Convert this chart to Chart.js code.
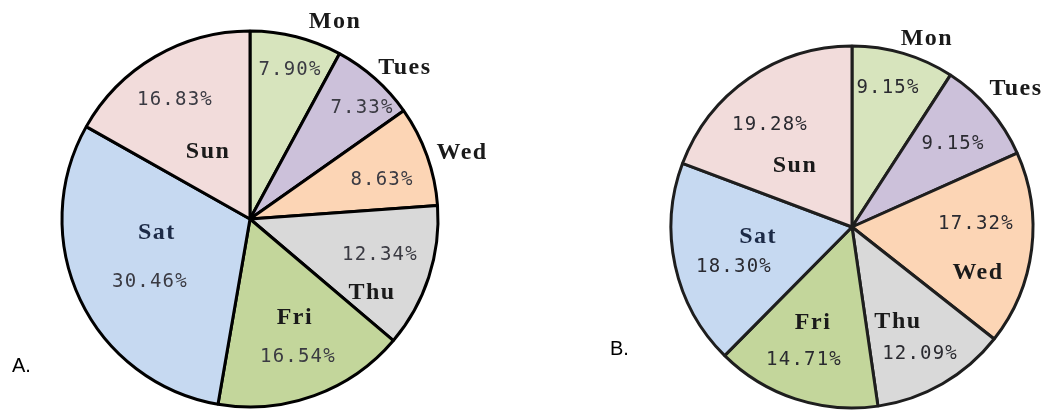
<!DOCTYPE html>
<html>
<head>
<meta charset="utf-8">
<script src="https://cdn.jsdelivr.net/npm/chart.js@4.4.1/dist/chart.umd.min.js"></script>
<style>
  html, body { margin: 0; padding: 0; background: #fff; }
  #wrap { position: relative; width: 1056px; height: 410px; overflow: hidden; }
  canvas { position: absolute; top: 0; }
  #pieA { left: 0; }
  #pieB { left: 528px; }
  .tag { position: absolute; font-family: "Liberation Sans", Arial, sans-serif; font-size: 20px; color: #000; }
</style>
</head>
<body>
<div id="wrap">
  <canvas id="pieA" width="528" height="410"></canvas>
  <canvas id="pieB" width="528" height="410"></canvas>
  <div class="tag" style="left:12px; top:354px;">A.</div>
  <div class="tag" style="left:610px; top:337px;">B.</div>
</div>
<script>
// Days of the week, clockwise from twelve o'clock
const days = ['Mon', 'Tues', 'Wed', 'Thu', 'Fri', 'Sat', 'Sun'];

// Share of each day (%) for the two groups
const sharesA = [7.90, 7.33, 8.63, 12.34, 16.54, 30.46, 16.83];
const sharesB = [9.15, 9.15, 17.32, 12.09, 14.71, 18.30, 19.28];

// Percentage labels as printed on each pie
const pctLabelsA = ['7.90%', '7.33%', '8.63%', '12.34%', '16.54%', '30.46%', '16.83%'];
const pctLabelsB = ['9.15%', '9.15%', '17.32%', '12.09%', '14.71%', '18.30%', '19.28%'];

const sliceColors = ['#d7e4bd', '#ccc1da', '#fcd5b5', '#d9d9d9', '#c3d69b', '#c6d9f1', '#f2dcdb'];

// Label anchor offsets, in units of the pie radius from its centre: [dx, dy]
const nameSpotsA = [[0.452, -1.048], [0.824, -0.803], [1.128, -0.351], [0.649, 0.394], [0.239, 0.527], [-0.495, 0.074], [-0.223, -0.356]];
const pctSpotsA  = [[0.213, -0.793], [0.596, -0.590], [0.702, -0.207], [0.691, 0.191], [0.255, 0.734], [-0.532, 0.335], [-0.399, -0.633]];
const nameSpotsB = [[0.414, -1.039], [0.906, -0.762], [0.696, 0.254], [0.254, 0.525], [-0.215, 0.530], [-0.519, 0.055], [-0.315, -0.337]];
const pctSpotsB  = [[0.199, -0.768], [0.558, -0.459], [0.685, -0.017], [0.376, 0.702], [-0.265, 0.735], [-0.652, 0.221], [-0.453, -0.564]];

// Draws the day names and percentages on top of the slices
const sliceText = {
  id: 'sliceText',
  afterDatasetsDraw(chart, args, opts) {
    const arc = chart.getDatasetMeta(0).data[0];
    if (!arc) return;
    const cx = arc.x, cy = arc.y, r = arc.outerRadius;
    const ctx = chart.ctx;
    ctx.save();
    ctx.textAlign = 'center';
    ctx.textBaseline = 'middle';
    opts.names.forEach((name, i) => {
      const [dx, dy] = opts.nameSpots[i];
      ctx.font = 'bold 24px "Liberation Serif", "DejaVu Serif", serif';
      ctx.letterSpacing = '1.5px';
      ctx.fillStyle = name === 'Sat' ? '#1c2a46' : '#1a1a1a';
      ctx.fillText(name, cx + dx * r, cy + dy * r);
    });
    opts.pcts.forEach((txt, i) => {
      const [dx, dy] = opts.pctSpots[i];
      ctx.font = '19px "DejaVu Sans Mono", "Liberation Mono", monospace';
      ctx.letterSpacing = '1.2px';
      ctx.fillStyle = opts.pctColor;
      ctx.fillText(txt, cx + dx * r, cy + dy * r);
    });
    ctx.restore();
  }
};

function makePie(id, values, radius, padding, edge, names, nameSpots, pcts, pctSpots, pctColor) {
  return new Chart(document.getElementById(id), {
    type: 'pie',
    data: {
      labels: days,
      datasets: [{
        data: values,
        backgroundColor: sliceColors,
        borderColor: edge,
        borderWidth: 3,
        radius: radius
      }]
    },
    options: {
      responsive: false,
      animation: false,
      layout: { padding: padding },
      plugins: {
        legend: { display: false },
        tooltip: { enabled: false },
        sliceText: { names, nameSpots, pcts, pctSpots, pctColor }
      }
    },
    plugins: [sliceText]
  });
}

makePie('pieA', sharesA, 188, { left: 0, right: 28, top: 28, bottom: 0 }, '#000000',
        days, nameSpotsA, pctLabelsA, pctSpotsA, '#3a3a42');
makePie('pieB', sharesB, 181, { left: 120, right: 0, top: 44, bottom: 0 }, '#1e1e1e',
        days, nameSpotsB, pctLabelsB, pctSpotsB, '#2a2a30');
</script>
</body>
</html>
